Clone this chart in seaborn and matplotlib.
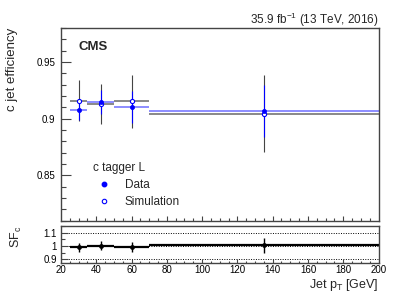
import numpy as np
import pandas as pd
import matplotlib
matplotlib.use("Agg")
import matplotlib.pyplot as plt
import matplotlib.transforms as mtrans
from matplotlib.ticker import FixedLocator, NullLocator
from matplotlib.lines import Line2D
import seaborn as sns

# ---- data ----
bin_lo = [25, 35, 50, 70]
bin_hi = [35, 50, 70, 200]
pt_center = [30, 42.5, 60, 135]
data_eff = [0.9073, 0.9148, 0.9100, 0.9070]
data_err = [0.0085, 0.0105, 0.0140, 0.0230]
sim_eff = [0.9160, 0.9130, 0.9153, 0.9044]
sim_err = [0.0180, 0.0180, 0.0235, 0.0340]
sf = [0.990, 1.004, 0.994, 1.005]
sf_err = [0.036, 0.033, 0.036, 0.055]
x_ticks = [20, 40, 60, 80, 100, 120, 140, 160, 180, 200]
eff_ticks = [0.85, 0.9, 0.95]
eff_tick_labels = ['0.85', '0.9', '0.95']
sf_ticks = [0.9, 1.0, 1.1]
sf_tick_labels = ['0.9', '1', '1.1']

sns.set_style("white")
frame_col = '#444444'
plt.rcParams.update({
    'font.family': ['Liberation Sans', 'DejaVu Sans'],
    'mathtext.fontset': 'custom',
    'mathtext.rm': 'Liberation Sans',
    'mathtext.it': 'Liberation Sans',
    'mathtext.bf': 'Liberation Sans:bold',
})

W, H = 407, 293
fig = plt.figure(figsize=(W / 100, H / 100), dpi=100)

def frac(x0, y0, x1, y1):
    return [x0 / W, 1 - y1 / H, (x1 - x0) / W, (y1 - y0) / H]

ax_px = (61, 28, 378.5, 220.7)
axr_px = (61, 225.5, 378.5, 262.7)
ax = fig.add_axes(frac(*ax_px))
axr = fig.add_axes(frac(*axr_px))

df = pd.DataFrame({"pt": pt_center, "data": data_eff, "sim": sim_eff, "sf": sf})

for a in (ax, axr):
    for s in a.spines.values():
        s.set_color(frame_col)
        s.set_linewidth(1.0)

# main panel
ax.hlines(sim_eff, bin_lo, bin_hi, colors='#888888', lw=1.4, zorder=2)
ax.hlines(data_eff, bin_lo, bin_hi, colors='#8c8cff', lw=1.4, zorder=2)
ax.errorbar(pt_center, sim_eff, yerr=sim_err, fmt='none', ecolor='#444444', elinewidth=0.8, zorder=3)
ax.errorbar(pt_center, data_eff, yerr=data_err, fmt='none', ecolor='#0000ff', elinewidth=0.8, zorder=4)
sns.scatterplot(data=df, x="pt", y="sim", ax=ax, marker='o', s=9, facecolor='white',
                edgecolor='#0000ff', linewidth=0.8, zorder=5)
sns.scatterplot(data=df, x="pt", y="data", ax=ax, marker='o', s=9, color='#0000ff',
                edgecolor='#0000ff', linewidth=0.5, zorder=6)

ax.set_xlim(20, 200)
ax.set_ylim(0.81, 0.98)
ax.set_xlabel('')
ax.set_ylabel('c jet efficiency', fontsize=9.5, loc='top')
ax.yaxis.set_label_coords(-0.135, 1.0)

ax.text(0.055, 0.93, 'CMS', transform=ax.transAxes, fontsize=9.5, fontweight='bold',
        ha='left', va='top')
fig.text(378.5 / W, 1 - 24 / H, '35.9 fb$^{-1}$ (13 TeV, 2016)', fontsize=8.5, ha='right',
         va='baseline')

handles = [Line2D([], [], ls='none', marker='o', ms=3.2, mfc='#0000ff', mec='#0000ff'),
           Line2D([], [], ls='none', marker='o', ms=3.2, mfc='white', mec='#0000ff', mew=0.8)]
leg = ax.legend(handles, ['Data', 'Simulation'], title='c tagger L', loc='upper left',
                bbox_to_anchor=(0.075, 0.35), frameon=False, fontsize=8.5, title_fontsize=8.5,
                handletextpad=0.9, labelspacing=0.45, borderpad=0.2, handlelength=1.8)
leg._legend_box.align = "left"
leg._legend_box.sep = 4

# ratio panel
for yv in sf_ticks:
    axr.axhline(yv, color='black', ls=(0, (1, 1.5)), lw=0.7, zorder=1)
axr.hlines(sf, bin_lo, bin_hi, colors='black', lw=1.6, zorder=2)
axr.errorbar(pt_center, sf, yerr=sf_err, fmt='none', ecolor='black', elinewidth=1.0, zorder=3)
sns.scatterplot(data=df, x="pt", y="sf", ax=axr, marker='o', s=10, color='black',
                edgecolor='black', zorder=4)
axr.set_xlim(20, 200)
axr.set_ylim(0.875, 1.155)
axr.set_xlabel('Jet p$_{\\mathrm{T}}$ [GeV]', fontsize=9, loc='right', labelpad=1)
axr.set_ylabel('SF$_c$', fontsize=9, loc='top')
axr.yaxis.set_label_coords(-0.115, 1.0)

# tick labels via the axis, tick marks drawn explicitly
ax.xaxis.set_major_locator(FixedLocator(x_ticks))
ax.xaxis.set_minor_locator(NullLocator())
ax.yaxis.set_major_locator(FixedLocator(eff_ticks))
ax.yaxis.set_minor_locator(NullLocator())
ax.set_yticklabels(eff_tick_labels)
axr.xaxis.set_major_locator(FixedLocator(x_ticks))
axr.xaxis.set_minor_locator(NullLocator())
axr.set_xticklabels([str(v) for v in x_ticks])
axr.yaxis.set_major_locator(FixedLocator(sf_ticks))
axr.yaxis.set_minor_locator(NullLocator())
axr.set_yticklabels(sf_tick_labels)
for a in (ax, axr):
    a.tick_params(which='both', length=0, labelsize=7, labelcolor='black')
ax.tick_params(axis='x', labelbottom=False)
ax.tick_params(axis='y', pad=4)
axr.tick_params(axis='x', pad=2)
axr.tick_params(axis='y', pad=3)


def draw_ticks(a, box, axis, values, length_px):
    x0, y0, x1, y1 = box
    if axis == 'y':
        tr = mtrans.blended_transform_factory(a.transAxes, a.transData)
        L = length_px / (x1 - x0)
        for v in values:
            a.plot([0, L], [v, v], transform=tr, color=frame_col, lw=0.8,
                   clip_on=False, zorder=10, solid_capstyle='butt')
    else:
        tr = mtrans.blended_transform_factory(a.transData, a.transAxes)
        L = length_px / (y1 - y0)
        for v in values:
            a.plot([v, v], [0, L], transform=tr, color=frame_col, lw=0.8,
                   clip_on=False, zorder=10, solid_capstyle='butt')


xmaj = x_ticks[1:-1]
xmin = [v for v in range(25, 200, 5) if v % 20 != 0]
draw_ticks(ax, ax_px, 'x', xmaj, 5)
draw_ticks(ax, ax_px, 'x', xmin, 2.5)
draw_ticks(ax, ax_px, 'y', eff_ticks, 10)
draw_ticks(ax, ax_px, 'y', [round(0.81 + 0.01 * i, 2) for i in range(18)
                            if round(0.81 + 0.01 * i, 2) not in eff_ticks], 5)
draw_ticks(axr, axr_px, 'x', xmaj, 4)
draw_ticks(axr, axr_px, 'x', xmin, 2)
draw_ticks(axr, axr_px, 'y', sf_ticks, 7)
draw_ticks(axr, axr_px, 'y', [0.95, 1.05, 1.15], 3.5)

fig.savefig('out.png', dpi=100)
